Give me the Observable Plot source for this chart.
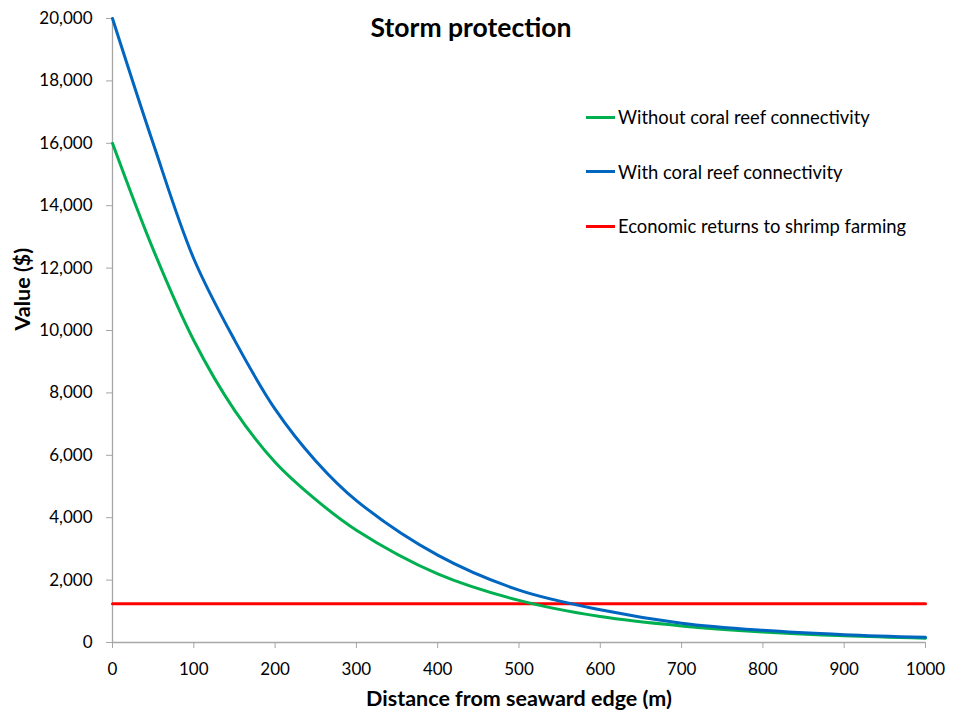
<!DOCTYPE html>
<html>
<head>
<meta charset="utf-8">
<script src="https://cdn.jsdelivr.net/npm/d3@7"></script>
<script src="https://cdn.jsdelivr.net/npm/@observablehq/plot@0.6"></script>
<style>
  html, body { margin: 0; padding: 0; background: #fff; }
  #wrap { position: relative; width: 957px; height: 715px; font-family: Lato, "Open Sans", sans-serif; }
  #title { position: absolute; left: 0; width: 942px; top: 11px; text-align: center; font-weight: bold; font-size: 26.5px; color: #000; }
  #legend { position: absolute; left: 586px; top: 104px; font-size: 18.4px; color: #000; }
  .item { display: flex; align-items: center; height: 26px; margin-bottom: 28.5px; }
  .swatch { width: 29px; height: 3px; margin-right: 3px; }
</style>
</head>
<body>
<div id="wrap">
  <div id="chart"></div>
  <div id="title"></div>
  <div id="legend"></div>
</div>
<script>
const titleText = "Storm protection";
const xLabel = "Distance from seaward edge (m)";
const yLabel = "Value ($)";
const distance = [0, 50, 100, 150, 200, 250, 300, 400, 500, 600, 700, 800, 900, 1000];
const withoutReef = [16000, 12600, 9680, 7450, 5780, 4580, 3600, 2200, 1350, 830, 530, 340, 215, 140];
const withReef = [20000, 16000, 12300, 9700, 7480, 5820, 4550, 2800, 1680, 1050, 620, 390, 250, 165];
const shrimpReturns = 1240;
const xTicks = [0, 100, 200, 300, 400, 500, 600, 700, 800, 900, 1000];
const yTicks = [0, 2000, 4000, 6000, 8000, 10000, 12000, 14000, 16000, 18000, 20000];
const seriesNames = ["Without coral reef connectivity", "With coral reef connectivity", "Economic returns to shrimp farming"];
const seriesColors = ["#00b050", "#0066c0", "#ff0000"];

const rows = [];
distance.forEach((d, i) => {
  rows.push({x: d, v: withoutReef[i], s: seriesNames[0]});
  rows.push({x: d, v: withReef[i], s: seriesNames[1]});
});
const flat = [{x: 0, v: shrimpReturns}, {x: 1000, v: shrimpReturns}];

const axisGray = "#a6a6a6";
const plot = Plot.plot({
  width: 957,
  height: 715,
  marginLeft: 112,
  marginRight: 32,
  marginTop: 18,
  marginBottom: 73,
  style: {fontFamily: "Lato, 'Open Sans', sans-serif", fontSize: "17px", color: "#000", background: "#fff"},
  x: {domain: [0, 1000]},
  y: {domain: [0, 20000]},
  color: {domain: seriesNames, range: seriesColors},
  marks: [
    Plot.ruleY([0], {stroke: axisGray, strokeWidth: 1.3}),
    Plot.ruleX([0], {stroke: axisGray, strokeWidth: 1.3}),
    Plot.axisX({ticks: xTicks, tickFormat: d => String(d), tickSize: 6, tickPadding: 14, stroke: axisGray, fill: "#000", label: null}),
    Plot.axisY({ticks: yTicks, tickFormat: d3.format(","), tickSize: 6, tickPadding: 14, stroke: axisGray, fill: "#000", label: null}),
    Plot.text([xLabel], {frameAnchor: "bottom", dy: 63, text: d => d, fontWeight: "bold", fontSize: 21.5, lineAnchor: "bottom"}),
    Plot.text([yLabel], {frameAnchor: "left", dx: -89, rotate: -90, text: d => d, fontWeight: "bold", fontSize: 21.5}),
    Plot.line(flat, {x: "x", y: "v", stroke: seriesColors[2], strokeWidth: 3}),
    Plot.line(rows, {x: "x", y: "v", z: "s", stroke: "s", strokeWidth: 3, curve: "catmull-rom"})
  ]
});
document.getElementById("chart").appendChild(plot);
document.getElementById("title").textContent = titleText;
const legend = document.getElementById("legend");
seriesNames.forEach((n, i) => {
  const item = document.createElement("div");
  item.className = "item";
  const sw = document.createElement("span");
  sw.className = "swatch";
  sw.style.background = seriesColors[i];
  const t = document.createElement("span");
  t.textContent = n;
  item.appendChild(sw);
  item.appendChild(t);
  legend.appendChild(item);
});
</script>
</body>
</html>
